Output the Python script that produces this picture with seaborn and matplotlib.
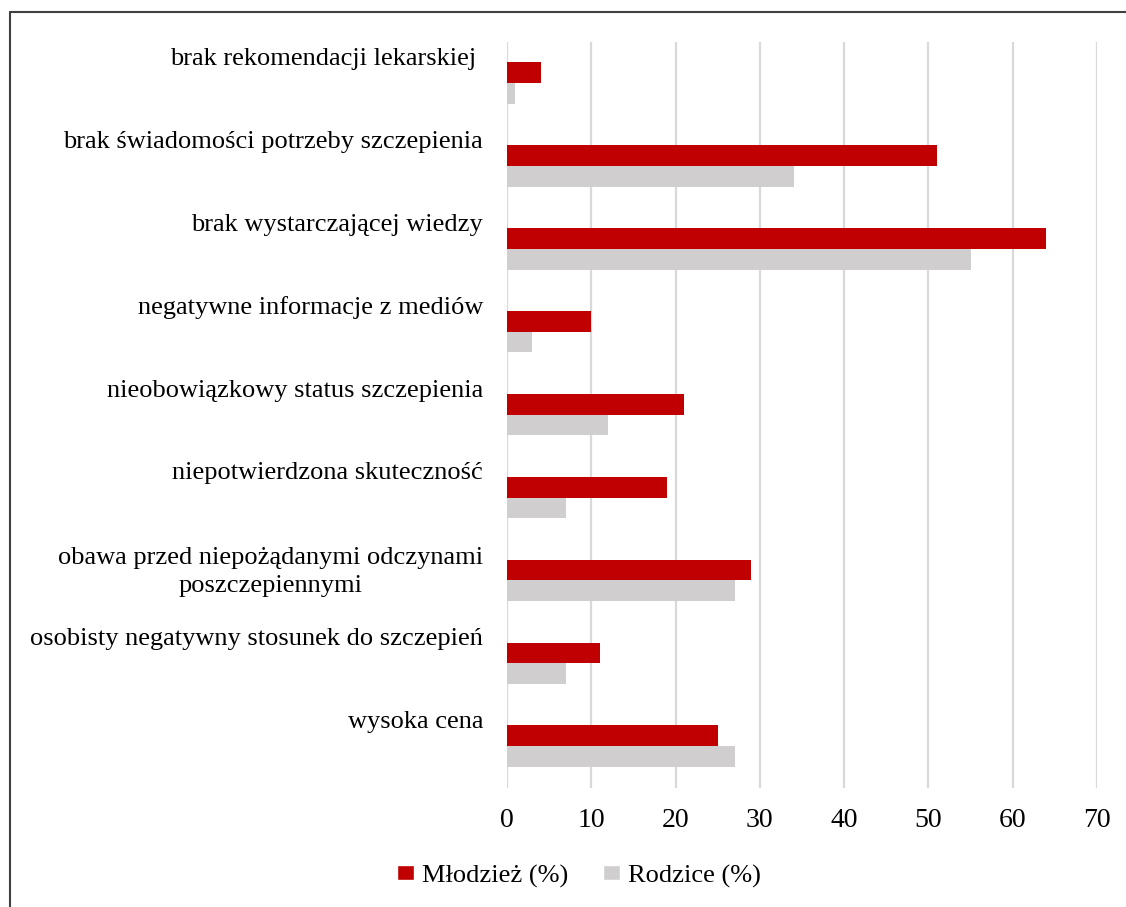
import pandas as pd
import numpy as np
import seaborn as sns
from matplotlib import pyplot as plt
from matplotlib.lines import Line2D
from matplotlib.patches import Patch


categories = [
    "brak rekomendacji lekarskiej ",
    "brak świadomości potrzeby szczepienia",
    "brak wystarczającej wiedzy",
    "negatywne informacje z mediów",
    "nieobowiązkowy status szczepienia",
    "niepotwierdzona skuteczność",
    "obawa przed niepożądanymi odczynami\nposzczepiennymi",
    "osobisty negatywny stosunek do szczepień",
    "wysoka cena",
]
mlodziez = [4, 51, 64, 10, 21, 19, 29, 11, 25]
rodzice = [1, 34, 55, 3, 12, 7, 27, 7, 27]
series_names = ["Młodzież (%)", "Rodzice (%)"]
x_ticks = [0, 10, 20, 30, 40, 50, 60, 70]

RED = "#C00000"
GREY = "#D0CECE"

df = pd.DataFrame({
    "category": categories * 2,
    "value": mlodziez + rodzice,
    "group": [series_names[0]] * len(categories) + [series_names[1]] * len(categories),
})

sns.set_style("white")
plt.rcParams["font.family"] = ["Liberation Serif", "DejaVu Serif"]
plt.rcParams["text.color"] = "black"

fig = plt.figure(figsize=(11.26, 9.07), dpi=100)
ax = fig.add_axes([0.4503, 0.1316, 0.5239, 0.8225])

sns.barplot(data=df, x="value", y="category", hue="group", orient="h",
            palette=[RED, GREY], saturation=1, width=0.5, ax=ax, legend=False,
            order=categories, hue_order=series_names, linewidth=0)

ax.set_xlim(0, 70)
ax.set_ylim(len(categories) - 0.5, -0.5)
ax.set_xticks(x_ticks)
ax.set_xticklabels([str(t) for t in x_ticks], fontsize=20, color="black")
ax.tick_params(axis="x", length=0, pad=15)
ax.set_yticks([])
ax.set_xlabel("")
ax.set_ylabel("")
for s in ax.spines.values():
    s.set_visible(False)

ax.grid(axis="x", color="#D9D9D9", linewidth=1.6)
ax.set_axisbelow(True)

# category labels sit above the bar groups, right-aligned
for i, lab in enumerate(categories):
    off = -0.1 if "\n" in lab else -0.29
    ax.text(-0.0407, i + off, lab, transform=ax.get_yaxis_transform(),
            ha="right", va="center", multialignment="center",
            fontsize=19, linespacing=1.35, color="black")

handles = [Patch(facecolor=RED, label=series_names[0]),
           Patch(facecolor=GREY, label=series_names[1])]
fig.legend(handles=handles, loc="center", bbox_to_anchor=(0.514, 0.034),
           ncol=2, frameon=False, fontsize=19, handlelength=0.65,
           handleheight=0.5, handletextpad=0.3, columnspacing=1.3,
           labelcolor="black")

# outer frame (top and left edges visible)
ytop = 1 - 12 / 907
xl = 10 / 1126
fig.add_artist(Line2D([xl, 1], [ytop, ytop], color="#404040", lw=1.5,
                      transform=fig.transFigure))
fig.add_artist(Line2D([xl, xl], [0, ytop], color="#404040", lw=1.5,
                      transform=fig.transFigure))

fig.savefig("out.png", dpi=100, facecolor="white")
